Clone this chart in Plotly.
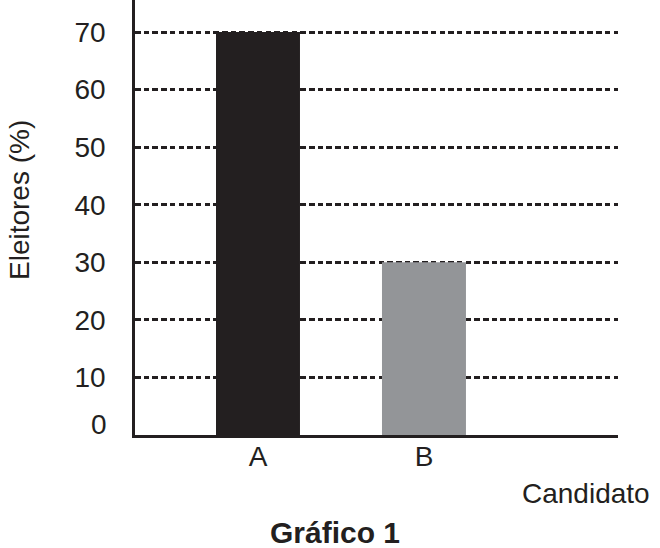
import plotly.graph_objects as go

categories = ["A", "B"]
values = [70, 30]
bar_colors = ["#231f20", "#939598"]
tick_values = [0, 10, 20, 30, 40, 50, 60, 70]
tick_labels = ["0", "10", "20", "30", "40", "50", "60", "70"]
y_title = "Eleitores (%)"
x_title = "Candidato"
caption = "Gráfico 1"

W, H = 660, 548
L, R, T, B = 135, 42, 0, 113
pw, ph = W - L - R, H - T - B
FONT = "Liberation Sans, Arial, Helvetica, sans-serif"
INK = "#231f20"
FS = 28

def px(x):
    return (x - L) / pw

def py(y):
    return (H - B - y) / ph

fig = go.Figure()
fig.add_trace(go.Bar(
    x=categories, y=values, marker=dict(color=bar_colors, line=dict(width=0)),
    width=0.506, showlegend=False,
))

fig.update_layout(
    width=W, height=H,
    margin=dict(l=L, r=R, t=T, b=B, pad=0),
    paper_bgcolor="white", plot_bgcolor="white",
    font=dict(family=FONT, size=FS, color=INK),
    xaxis=dict(
        type="category", range=[-0.741, 2.169],
        showgrid=False, zeroline=False,
        showline=True, linecolor=INK, linewidth=2.5,
        ticks="", ticklabelstandoff=-5,
        tickfont=dict(size=FS, color=INK, family=FONT),
    ),
    yaxis=dict(
        range=[0, 75.56],
        tickvals=tick_values[1:], ticktext=tick_labels[1:],
        showgrid=True, gridcolor=INK, gridwidth=2.5, griddash="5.5px,3.2px",
        zeroline=False,
        showline=True, linecolor=INK, linewidth=2.5,
        ticks="", ticklabelstandoff=21,
        tickfont=dict(size=FS, color=INK, family=FONT),
    ),
    annotations=[
        dict(text=tick_labels[0], xref="paper", yref="y", x=0, y=tick_values[0],
             xanchor="right", yanchor="bottom", xshift=-26, yshift=-7, showarrow=False,
             font=dict(size=FS, color=INK, family=FONT)),
        dict(text=y_title, xref="paper", yref="paper", x=px(19), y=py(200),
             textangle=-90, showarrow=False, xanchor="center", yanchor="middle",
             font=dict(size=FS, color=INK, family=FONT)),
        dict(text=x_title, xref="paper", yref="paper", x=px(652), y=py(494),
             showarrow=False, xanchor="right", yanchor="middle",
             font=dict(size=FS, color=INK, family=FONT)),
        dict(text="<b>" + caption + "</b>", xref="paper", yref="paper", x=px(335), y=py(532),
             showarrow=False, xanchor="center", yanchor="middle",
             font=dict(size=30, color=INK, family=FONT)),
    ],
)

fig.write_html("out.html", config={"displayModeBar": False},
               post_script="document.body.style.margin='0';document.body.style.overflow='hidden';")
